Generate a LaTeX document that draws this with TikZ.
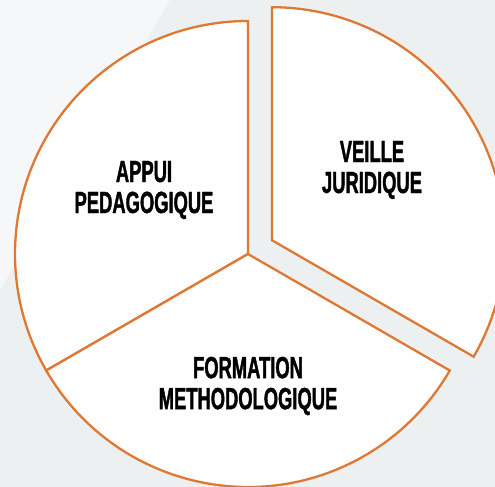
\documentclass[tikz,border=0pt]{standalone}
\usepackage{fontspec}
\usetikzlibrary{calc}
\newfontfamily\agencyfont[FakeStretch=0.6,FakeBold=1.2]{Liberation Sans Bold}
\definecolor{sliceorange}{RGB}{222,120,50}
\definecolor{backgray}{RGB}{237,240,241}
\definecolor{backlight}{RGB}{246,247,248}
\tikzset{
    slice/.style={draw=sliceorange,fill=white,line width=1.15pt,line join=miter},
    slicetext/.style={align=center,font=\agencyfont\fontsize{15.3}{15.5}\selectfont,text=black,inner sep=0pt},
}
\newcommand\PieSlice[4]{%
    \draw[slice] (#1) -- ++(#2:#4) arc[start angle=#2,end angle=#3,radius=#4] -- cycle;
}

\begin{document}
\begin{tikzpicture}[x=0.5pt,y=0.5pt]
    \useasboundingbox (0,0) rectangle (495,487);
    \clip (0,0) rectangle (495,487);
    \fill[backgray] (0,0) rectangle (495,487);
    \fill[backlight] (0,487) -- (170,487) -- (0,197) -- cycle;
    \coordinate (Centre) at (248,233);
    \coordinate (Moved) at ($(Centre)+(30:27.6)$);
    \PieSlice{Centre}{90}{210}{233}
    \PieSlice{Centre}{210}{330}{233}
    \PieSlice{Moved}{-30}{90}{233}
    \node[slicetext] (appui) at (144,297) {APPUI\\PEDAGOGIQUE};
    \node[slicetext] (veille) at (372,317) {VEILLE\\JURIDIQUE};
    \node[slicetext] (formation) at (248,101) {FORMATION\\METHODOLOGIQUE};
\end{tikzpicture}
\end{document}
